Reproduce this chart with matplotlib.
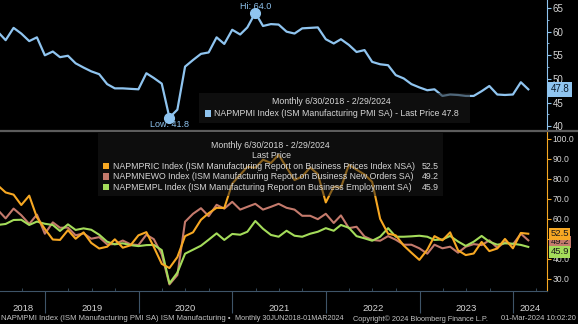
import numpy as np
import pandas as pd
import matplotlib
matplotlib.use("Agg")
import matplotlib.pyplot as plt
import matplotlib.dates as mdates
from matplotlib.patches import Rectangle
from matplotlib.lines import Line2D
from datetime import datetime

plt.rcParams['font.family'] = ['Liberation Sans', 'DejaVu Sans']

# ---- data (monthly, 6/30/2018 - 2/29/2024) ----
dates = pd.date_range("2018-06-30", "2024-02-29", freq="ME")

pmi = [60.0, 58.2, 60.8, 59.6, 58.0, 58.8, 55.0,
       55.8, 54.6, 54.9, 53.3, 52.4, 51.6, 51.0, 48.9, 48.0, 48.0, 47.9, 47.8,
       51.2, 50.2, 49.0, 41.8, 43.5, 52.6, 54.0, 55.3, 55.6, 58.8, 57.4, 60.4,
       59.4, 60.9, 64.0, 61.2, 61.6, 61.5, 60.0, 59.6, 60.7, 60.8, 60.9, 58.4,
       57.5, 58.4, 57.2, 55.7, 56.1, 53.6, 53.1, 52.9, 50.8, 50.1, 48.9, 48.2,
       47.6, 47.8, 46.4, 46.7, 46.6, 46.4, 46.4, 47.4, 48.5, 46.7, 46.6, 46.7,
       49.3, 47.8]

prices = [76.8, 73.2, 72.1, 66.9, 71.6, 60.7, 54.9,
          49.6, 49.4, 54.3, 50.0, 53.2, 47.9, 45.1, 46.0, 49.7, 45.5, 46.7, 51.7,
          53.3, 45.9, 37.4, 35.3, 40.8, 51.3, 53.2, 59.5, 62.8, 65.5, 65.4, 77.6,
          82.1, 86.0, 85.6, 89.6, 88.0, 92.1, 85.7, 79.4, 81.2, 85.7, 82.4, 68.2,
          76.1, 75.6, 87.1, 84.6, 82.2, 78.5, 60.0, 52.5, 51.7, 46.6, 43.0, 39.4,
          44.5, 51.3, 49.2, 53.2, 44.2, 41.8, 42.6, 48.4, 43.8, 45.1, 49.9, 45.2,
          52.9, 52.5]

new_orders = [64.5, 60.2, 65.1, 61.8, 57.4, 62.1, 52.5,
              58.2, 55.5, 55.6, 51.7, 52.7, 50.0, 50.8, 47.2, 47.3, 49.1, 47.2, 46.8,
              52.0, 49.8, 42.2, 27.1, 31.8, 58.5, 62.5, 65.3, 61.3, 67.0, 65.1, 68.5,
              64.6, 66.0, 67.5, 64.6, 66.0, 67.5, 65.5, 64.6, 61.5, 61.5, 59.8, 62.5,
              57.9, 61.7, 55.3, 56.0, 51.1, 49.4, 49.0, 51.3, 49.5, 47.0, 47.0, 45.2,
              42.5, 47.0, 45.2, 46.0, 43.0, 46.0, 47.3, 46.8, 49.2, 45.5, 48.3, 47.1,
              52.5, 49.2]

employment = [56.9, 57.4, 59.4, 59.5, 56.9, 58.6, 57.5,
              56.9, 53.9, 57.2, 54.4, 55.2, 54.5, 52.0, 48.5, 47.2, 47.7, 46.8, 46.3,
              46.8, 46.9, 44.3, 27.6, 33.0, 42.5, 44.5, 46.5, 49.5, 52.7, 49.4, 52.4,
              52.0, 53.5, 58.9, 55.0, 51.9, 51.0, 54.0, 51.5, 51.0, 52.5, 53.5, 55.3,
              54.0, 56.9, 55.5, 51.3, 50.2, 49.0, 51.0, 55.3, 51.0, 51.0, 51.2, 51.5,
              51.0, 49.4, 49.6, 51.4, 48.6, 46.4, 48.5, 51.4, 48.5, 47.0, 47.7, 47.5,
              46.9, 45.9]

years = [2018, 2019, 2020, 2021, 2022, 2023, 2024]
top_ticks = [40, 45, 50, 55, 60, 65]
bottom_ticks = [30, 40, 50, 60, 70, 80, 90, 100]

# name, values, colour, vertical nudge of the last-value tag (points)
bottom_series = [
    ("NAPMNEWO Index (ISM Manufacturing Report on Business New Orders SA)", new_orders, '#c47a6c', -1.0),
    ("NAPMEMPL Index (ISM Manufacturing Report on Business Employment SA)", employment, '#a4dc5a', -3.5),
    ("NAPMPRIC Index (ISM Manufacturing Report on Business Prices Index NSA)", prices, '#f7a823', 0.0),
]
legend_order = [2, 0, 1]

# ---- figure / pixel helpers ----
W, H = 578, 324
BLUE = '#8fc4ef'
TXT = '#d6d6d6'
fig = plt.figure(figsize=(W / 100, H / 100), dpi=100, facecolor='black')


def px_axes(x0, y0, x1, y1):
    return fig.add_axes([x0 / W, 1 - y1 / H, (x1 - x0) / W, (y1 - y0) / H])


def ftext(x, y, s, **kw):
    return fig.text(x / W, 1 - y / H, s, **kw)


def fbox(x0, y0, x1, y1, **kw):
    fig.patches.append(Rectangle((x0 / W, 1 - y1 / H), (x1 - x0) / W, (y1 - y0) / H,
                                 transform=fig.transFigure, **kw))


ax1 = px_axes(0, 0, 547, 129)
ax2 = px_axes(0, 132, 547, 291)

x_left = mdates.date2num(datetime(2018, 7, 9))
x_right = mdates.date2num(datetime(2024, 5, 12))

for ax in (ax1, ax2):
    ax.set_facecolor('black')
    ax.set_xlim(x_left, x_right)
    for s in ('top', 'left', 'bottom'):
        ax.spines[s].set_visible(False)
    ax.yaxis.tick_right()

# ---- top panel: PMI ----
ax1.plot(dates, pmi, color=BLUE, lw=1.6, zorder=3)
ax1.set_ylim(39.4, 66.7)
ax1.set_yticks(top_ticks)
ax1.set_yticks(np.arange(40, 66, 2.5), minor=True)
ax1.set_yticklabels([str(t) for t in top_ticks])
ax1.spines['right'].set_color(BLUE)
ax1.tick_params(axis='y', which='major', colors=BLUE, labelcolor=TXT, labelsize=7, length=3, pad=1)
ax1.tick_params(axis='y', which='minor', colors=BLUE, length=1.5)
ax1.tick_params(axis='x', bottom=False, labelbottom=False)

i_hi = int(np.argmax(pmi))
i_lo = int(np.argmin(pmi))
ax1.plot(dates[i_hi], pmi[i_hi], 'o', color=BLUE, ms=7, zorder=5)
ax1.plot(dates[i_lo], pmi[i_lo], 'o', color=BLUE, ms=7, zorder=5)
ax1.annotate(f"Hi: {pmi[i_hi]:.1f}", xy=(dates[i_hi], pmi[i_hi]), xytext=(0, 1.5),
             textcoords='offset points', ha='center', va='bottom', color=BLUE,
             fontsize=6.5, zorder=4, annotation_clip=False)
ax1.annotate(f"Low: {pmi[i_lo]:.1f}", xy=(dates[i_lo], pmi[i_lo]), xytext=(0, -2),
             textcoords='offset points', ha='center', va='top', color=BLUE,
             fontsize=6.5, zorder=4, annotation_clip=False)
ax1.annotate(f"{pmi[-1]:.1f}", xy=(1, pmi[-1]), xycoords=('axes fraction', 'data'),
             xytext=(2.5, 0), textcoords='offset points', ha='left', va='center',
             fontsize=7, color='#0b1a2a', annotation_clip=False,
             bbox=dict(boxstyle='square,pad=0.25', fc=BLUE, ec='none'))

# ---- bottom panel: components ----
for i, (name, vals, col, nudge) in enumerate(bottom_series):
    ax2.plot(dates, vals, color=col, lw=1.5, zorder=3 + i)
ax2.set_ylim(23.8, 103.5)
ax2.set_yticks(bottom_ticks)
ax2.set_yticklabels([f"{t:.1f}" for t in bottom_ticks])
ax2.spines['right'].set_color('#f7a823')
ax2.spines['bottom'].set_visible(True)
ax2.spines['bottom'].set_color('#3e5468')
ax2.tick_params(axis='y', colors='#f7a823', labelcolor=TXT, labelsize=6.2, length=3, pad=1)

ax2.set_xticks([mdates.date2num(datetime(y, 1, 1)) for y in years[1:]])
ax2.set_xticks([mdates.date2num(datetime(y, m, 1)) for y in years for m in (4, 7, 10)
                if x_left < mdates.date2num(datetime(y, m, 1)) < x_right], minor=True)
ax2.tick_params(axis='x', which='major', direction='out', length=16, color='#3e5468',
                labelbottom=False)
ax2.tick_params(axis='x', which='minor', direction='in', length=2.5, color='#3e5468')
for yr in years:
    a = max(mdates.date2num(datetime(yr, 1, 1)), x_left)
    b = min(mdates.date2num(datetime(yr + 1, 1, 1)), x_right)
    ax2.text((a + b) / 2, -0.11, str(yr), transform=ax2.get_xaxis_transform(),
             ha='center', va='center', color=TXT, fontsize=6.8)

for i, (name, vals, col, nudge) in enumerate(bottom_series):
    ax2.annotate(f"{vals[-1]:.1f}", xy=(1, vals[-1]), xycoords=('axes fraction', 'data'),
                 xytext=(2.5, nudge), textcoords='offset points', ha='left', va='center',
                 fontsize=6.8, color='#1a1a1a', annotation_clip=False, zorder=6 + i,
                 bbox=dict(boxstyle='square,pad=0.15', fc=col, ec='none'))

# ---- panel separator ----
fig.lines.append(Line2D([0, 1], [1 - 130.5 / H] * 2, transform=fig.transFigure,
                        color='#5c5c5c', lw=1.6))

# ---- legends ----
fbox(199, 93, 470, 123, fc='#1b1b1b', alpha=0.55, ec='none', zorder=2)
ftext(331, 101, "Monthly 6/30/2018 - 2/29/2024", ha='center', va='center', color=TXT, fontsize=6.3, zorder=4)
fbox(205, 110, 211, 117, fc=BLUE, ec='none', zorder=3)
ftext(214, 114, f"NAPMPMI Index (ISM Manufacturing PMI SA) - Last Price {pmi[-1]:.1f}",
      ha='left', va='center', color=TXT, fontsize=6.3, zorder=4)

fbox(98, 133, 443, 196, fc='#1b1b1b', alpha=0.5, ec='none', zorder=2)
ftext(270, 145, "Monthly 6/30/2018 - 2/29/2024", ha='center', va='center', color=TXT, fontsize=6.3, zorder=4)
ftext(271, 155, "Last Price", ha='center', va='center', color=TXT, fontsize=6.3, zorder=4)
for row, k in enumerate(legend_order):
    name, vals, col, nudge = bottom_series[k]
    yy = 166 + row * 10.7
    fbox(103, yy - 3.5, 109, yy + 3, fc=col, ec='none', zorder=3)
    ftext(113, yy, name, ha='left', va='center', color=TXT, fontsize=6.3, zorder=4)
    ftext(439, yy, f"{vals[-1]:.1f}", ha='right', va='center', color=TXT, fontsize=6.3, zorder=4)

# ---- footer ----
FOOT = '#c4c4c4'
ftext(1, 319, "NAPMPMI Index (ISM Manufacturing PMI SA) ISM Manufacturing \u2022",
      ha='left', va='center', color=FOOT, fontsize=5.6)
ftext(235, 319, "Monthly 30JUN2018-01MAR2024", ha='left', va='center', color=FOOT, fontsize=5.2)
ftext(353, 319, "Copyright\u00a9 2024 Bloomberg Finance L.P.", ha='left', va='center', color=FOOT, fontsize=5.3)
ftext(576, 319, "01-Mar-2024 10:02:20", ha='right', va='center', color=FOOT, fontsize=5.5)

fig.savefig("out.png", dpi=100, facecolor='black')
